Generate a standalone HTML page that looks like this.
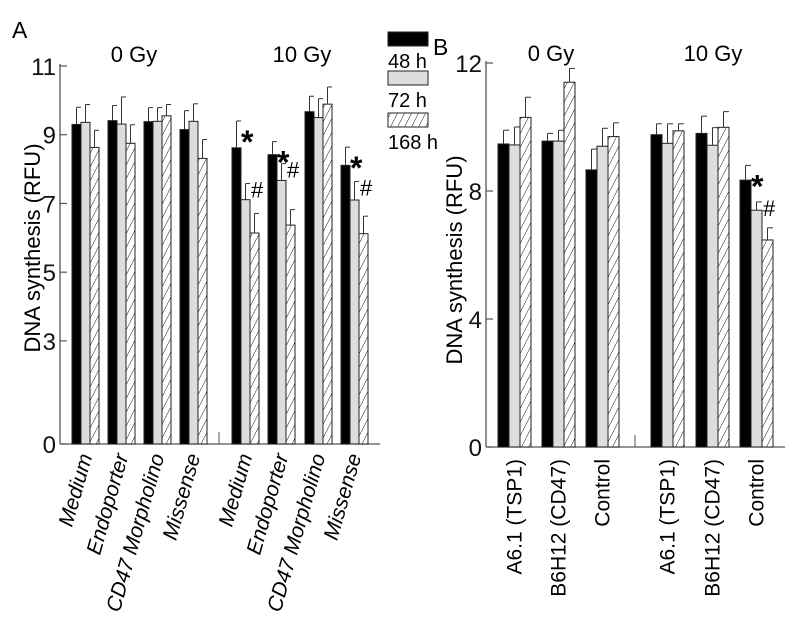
<!DOCTYPE html>
<html><head><meta charset="utf-8"><style>
body{margin:0;background:#fff}
svg{display:block;font-family:"Liberation Sans",Arial,sans-serif}
</style></head><body>
<svg id="c" width="799" height="619" viewBox="0 0 799 619">
<defs><pattern id="hatch" patternUnits="userSpaceOnUse" width="7" height="14" patternTransform="skewX(-27)"><rect width="7" height="14" fill="#fff"/><line x1="0" y1="0" x2="0" y2="14" stroke="#000" stroke-width="1"/></pattern></defs>
</svg>
<script>
// Panel A data
const catsA = ["Medium","Endoporter","CD47 Morpholino","Missense","Medium","Endoporter","CD47 Morpholino","Missense"];
const a48 = [9.30,9.41,9.38,9.15,8.62,8.42,9.67,8.11];
const a72 = [9.36,9.31,9.39,9.39,7.11,7.67,9.50,7.10];
const a168 = [8.63,8.75,9.55,8.31,6.14,6.37,9.89,6.12];
const a48e = [9.80,9.85,9.79,9.70,9.40,8.80,10.12,8.64];
const a72e = [9.88,10.10,9.79,9.90,7.58,8.16,10.05,7.64];
const a168e = [9.13,9.29,9.88,8.86,6.71,6.82,10.39,6.63];
const ticksA = [0,3,5,7,9,11];
const starA = [0,0,0,0,1,1,0,1];
// Panel B data
const catsB = ["A6.1 (TSP1)","B6H12 (CD47)","Control","A6.1 (TSP1)","B6H12 (CD47)","Control"];
const b48 = [9.47,9.56,8.66,9.76,9.80,8.34];
const b72 = [9.44,9.56,9.40,9.49,9.43,7.40];
const b168 = [10.30,11.40,9.70,9.88,9.99,6.47];
const b48e = [9.90,9.80,9.31,10.10,10.34,8.80];
const b72e = [10.00,9.90,9.96,10.10,9.98,7.66];
const b168e = [10.93,11.83,10.13,10.10,10.48,6.85];
const ticksB = [0,4,8,12];
const starB = [0,0,0,0,0,1];

const svg=document.getElementById('c');
const NS="http://www.w3.org/2000/svg";
function mk(t,a,p){const e=document.createElementNS(NS,t);for(const k in a)e.setAttribute(k,a[k]);(p||svg).appendChild(e);return e;}
function txt(s,a){const e=mk('text',a);e.textContent=s;return e;}

function panel(P){
  const g=mk('g',{});
  
  
  const y=v=>P.y0-(v/P.max)*(P.y0-P.ytop);
  const ax=mk('line',{x1:P.ax,y1:P.ytop-2,x2:P.ax,y2:P.y0,stroke:'#555','stroke-width':1.3},g);
  
  const xa=mk('line',{x1:P.ax,y1:P.y0,x2:P.axEnd,y2:P.y0,stroke:'#555','stroke-width':1.3},g);
  
  mk('line',{x1:P.brk,y1:P.y0-12,x2:P.brk,y2:P.y0,stroke:'#555','stroke-width':1},g);
  P.ticks.forEach(t=>{
    mk('line',{x1:P.ax,y1:y(t),x2:P.ax+7,y2:y(t),stroke:'#555','stroke-width':1.2},g);
    const l=txt(String(t),{x:P.ax-4,y:y(t)+9,'text-anchor':'end','font-size':24,fill:'#111'});
    g.appendChild(l);
  });
  const yl=txt('DNA synthesis (RFU)',{x:0,y:0,'font-size':22,'text-anchor':'middle',transform:`translate(${P.ylx},${P.ylc}) rotate(-90)`});
  g.appendChild(yl);
  const fills=['#000','#ddd','url(#hatch)'];
  const series=[P.s48,P.s72,P.s168], errs=[P.e48,P.e72,P.e168];
  P.cats.forEach((c,i)=>{
    const x0=P.starts[i];
    for(let s=0;s<3;s++){
      const bx=x0+s*P.bw, top=y(series[s][i]);
      const r=mk('rect',{x:bx,y:top,width:P.bw,height:P.y0-top,fill:fills[s],stroke:'#222','stroke-width':1},g);
      
      const et=y(errs[s][i]), cx=bx+P.bw/2;
      mk('line',{x1:cx,y1:top,x2:cx,y2:et,stroke:'#333','stroke-width':1},g);
      mk('line',{x1:cx,y1:et,x2:cx+P.bw/2,y2:et,stroke:'#333','stroke-width':1},g);
    }
    if(P.stars[i]){
      const st=txt('*',{x:x0+P.bw,y:y(P.e48[i])+32,'font-size':32,'font-weight':'bold'});
      g.appendChild(st);
      const h=txt('#',{x:x0+2*P.bw+1,y:y(P.e72[i])+14,'font-size':22});
      g.appendChild(h);
    }
    const cx=x0+1.5*P.bw+P.lblDx;
    const lb=txt(c,{x:0,y:0,'text-anchor':'end','font-size':21,'font-style':P.italic?'italic':'normal',transform:`translate(${cx},${P.y0+12}) rotate(${P.rot})`});
    g.appendChild(lb);
  });
  P.heads.forEach(h=>{const t=txt(h[0],{x:h[1],y:P.headY,'font-size':22,'text-anchor':'middle'});g.appendChild(t);});
  const pl=txt(P.letter,{x:P.lx,y:P.ly,'font-size':23});g.appendChild(pl);
  svg.appendChild(g);
}
panel({name:'panel-a',letter:'A',lx:12,ly:38,max:11,y0:444,ytop:66,ax:60,axEnd:380,brk:219,ylx:40,ylc:248,ticks:ticksA,
 cats:catsA,s48:a48,s72:a72,s168:a168,e48:a48e,e72:a72e,e168:a168e,stars:starA,
 starts:[72,108,144,180,232,268,305,341],bw:9,rot:-74,italic:true,lblDx:7,
 heads:[['0 Gy',134],['10 Gy',302]],headY:62});
panel({name:'panel-b',letter:'B',lx:433,ly:55,max:12,y0:447,ytop:63,ax:486,axEnd:785,brk:635,ylx:462,ylc:260,ticks:ticksB,
 cats:catsB,s48:b48,s72:b72,s168:b168,e48:b48e,e72:b72e,e168:b168e,stars:starB,
 starts:[498,542,586,651,696,740],bw:11,rot:-90,italic:false,lblDx:7,
 heads:[['0 Gy',551],['10 Gy',713]],headY:61});
// legend
const lg=mk('g',{});


[['#000','48 h',32],['#ddd','72 h',71],['url(#hatch)','168 h',113]].forEach(d=>{
  const r=mk('rect',{x:388,y:d[2],width:40,height:14,fill:d[0],stroke:'#222','stroke-width':1},lg);
  
  const t=txt(d[1],{x:388,y:d[2]+36,'font-size':20});
  lg.appendChild(t);
});
svg.appendChild(lg);
</script>
</body></html>
